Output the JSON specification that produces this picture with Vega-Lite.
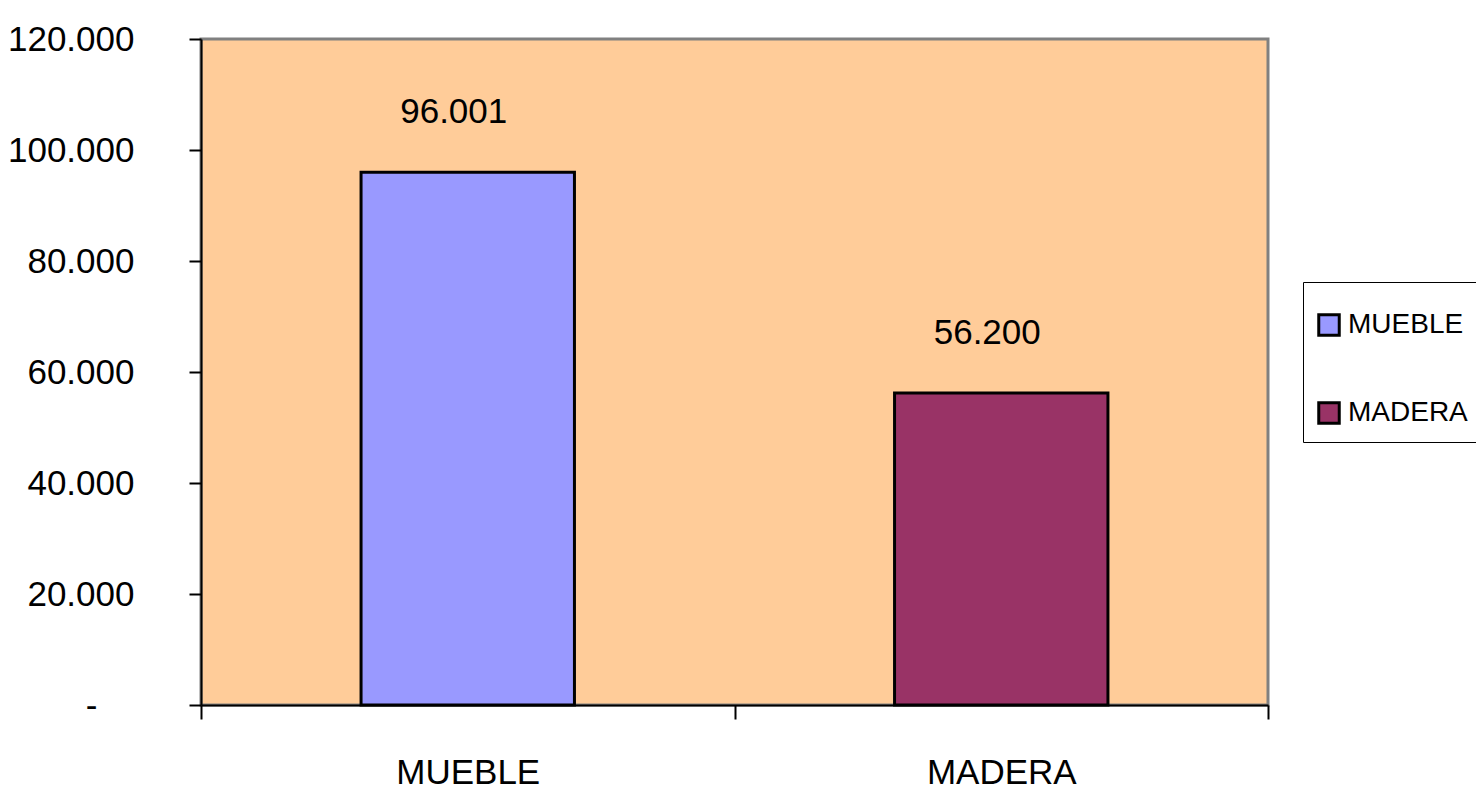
{
  "$schema": "https://vega.github.io/schema/vega-lite/v6.json",
  "autosize": "none",
  "width": 1067,
  "height": 666,
  "padding": {"left": 201, "top": 39, "right": 208, "bottom": 91},
  "background": "white",
  "data": {"values": [
    {"categoria": "MUEBLE", "valor": 96001},
    {"categoria": "MADERA", "valor": 56200}
  ]},
  "encoding": {
    "x": {"field": "categoria", "type": "nominal", "sort": ["MUEBLE", "MADERA"],
      "scale": {"paddingInner": 0, "paddingOuter": 0},
      "axis": {"title": null, "labelAngle": 0, "tickBand": "extent", "tickSize": 14, "tickWidth": 2, "tickColor": "black", "domainColor": "black", "domainWidth": 2, "labelPadding": 36, "labelFontSize": 35, "labelFont": "Liberation Sans, Arial", "labelColor": "black"}},
    "y": {"field": "valor", "type": "quantitative",
      "scale": {"domain": [0, 120000], "nice": false},
      "axis": {"title": null, "values": [0, 20000, 40000, 60000, 80000, 100000, 120000], "grid": false, "tickSize": 12, "tickWidth": 2, "tickColor": "black", "domainColor": "black", "domainWidth": 2, "labelPadding": {"condition": {"test": "datum.value == 0", "value": 92}, "value": 55}, "labelFontSize": 35, "labelFont": "Liberation Sans, Arial", "labelColor": "black", "format": ",d", "labelExpr": "datum.value == 0 ? '-' : datum.label"}}
  },
  "layer": [
    {
      "mark": {"type": "bar", "width": {"band": 0.4}, "stroke": "black", "strokeWidth": 3},
      "encoding": {
        "color": {"field": "categoria", "type": "nominal", "scale": {"domain": ["MUEBLE", "MADERA"], "range": ["#9999FF", "#993366"]},
          "legend": {"title": "\u00a0", "titleFontSize": 10, "titlePadding": 7, "orient": "none", "legendX": 1102, "legendY": 243, "symbolType": "square", "symbolSize": 420, "symbolStrokeColor": "black", "symbolStrokeWidth": 3, "labelFontSize": 28, "labelFont": "Liberation Sans, Arial", "labelColor": "black", "labelLimit": 400, "rowPadding": 54, "padding": 12, "strokeColor": "black", "fillColor": "white", "labelOffset": 5}}
      }
    },
    {
      "mark": {"type": "text", "baseline": "middle", "dy": -60, "dx": -14, "fontSize": 35, "font": "Liberation Sans, Arial", "color": "black"},
      "encoding": {"text": {"field": "valor", "type": "quantitative", "format": ",d"}}
    }
  ],
  "config": {
    "locale": {"number": {"decimal": ",", "thousands": ".", "grouping": [3], "currency": ["$", ""]}},
    "view": {"fill": "#FFCC99", "stroke": "#808080", "strokeWidth": 3}
  }
}
